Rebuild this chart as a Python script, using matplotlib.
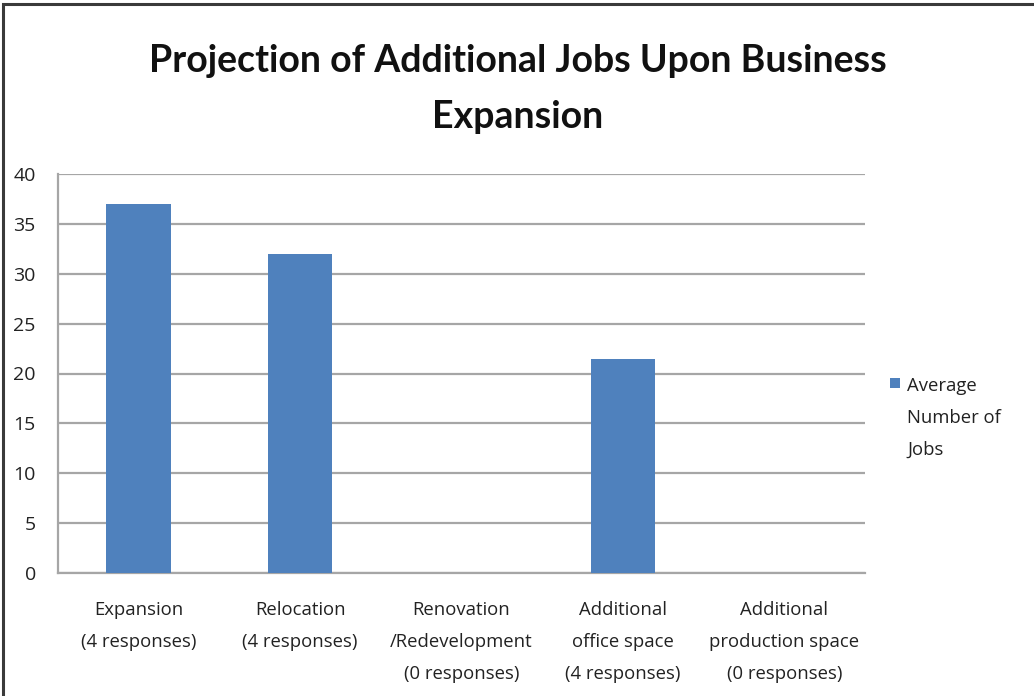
import matplotlib
matplotlib.use("Agg")
import matplotlib.pyplot as plt
from matplotlib.patches import Rectangle

categories = [
    "Expansion\n(4 responses)",
    "Relocation\n(4 responses)",
    "Renovation\n/Redevelopment\n(0 responses)",
    "Additional\noffice space\n(4 responses)",
    "Additional\nproduction space\n(0 responses)",
]
avg_jobs = [37, 32, 0, 21.5, 0]
y_ticks = [0, 5, 10, 15, 20, 25, 30, 35, 40]
series_label = "Average\nNumber of\nJobs"
title = "Projection of Additional Jobs Upon Business\nExpansion"

bar_color = "#4F81BD"
grid_color = "#A6A6A6"
text_color = "#222222"
label_font = ["Open Sans", "DejaVu Sans"]

plt.rcParams["font.family"] = ["Lato", "DejaVu Sans"]

W, H = 1034, 696
fig = plt.figure(figsize=(W / 100, H / 100), dpi=100)
fig.patch.set_facecolor("white")

ax = fig.add_axes([58 / W, 1 - 573 / H, (865 - 58) / W, (573 - 174) / H])
x = range(len(categories))
ax.bar(x, avg_jobs, width=0.4, color=bar_color, zorder=3)

ax.set_xlim(-0.5, len(categories) - 0.5)
ax.set_ylim(0, 40)
ax.set_yticks(y_ticks)
ax.set_yticklabels([str(v) for v in y_ticks], fontsize=14, color=text_color,
                   family=label_font)
ax.set_xticks(list(x))
ax.set_xticklabels(categories, fontsize=13.3, color=text_color,
                   family=label_font, linespacing=2.0)
ax.tick_params(axis="y", length=0, pad=16)
ax.tick_params(axis="x", length=0, pad=20)

ax.yaxis.grid(True, color=grid_color, linewidth=1.6, zorder=0)
ax.set_axisbelow(True)
for side in ("top", "right"):
    ax.spines[side].set_visible(False)
for side in ("left", "bottom"):
    ax.spines[side].set_color(grid_color)
    ax.spines[side].set_linewidth(1.6)

fig.text(518 / W, 1 - 89 / H, title, ha="center", va="center",
         fontsize=27, fontweight="bold", linespacing=1.75, color="#111111")

# series key: small square followed by the wrapped series name
fig.patches.append(Rectangle((890 / W, 1 - 388 / H), 10 / W, 10 / H,
                             transform=fig.transFigure, facecolor=bar_color,
                             edgecolor="none"))
fig.text(907 / W, 1 - 377 / H, series_label, ha="left", va="top",
         fontsize=13.3, family=label_font, color=text_color, linespacing=2.0)

# outer frame of the chart area
fig.patches.append(Rectangle((3 / W, -0.05), 1.2, 1 - 4 / H + 0.05,
                             transform=fig.transFigure, fill=False,
                             edgecolor="#3A3A3A", linewidth=2.2))

fig.savefig("out.png", dpi=100)
